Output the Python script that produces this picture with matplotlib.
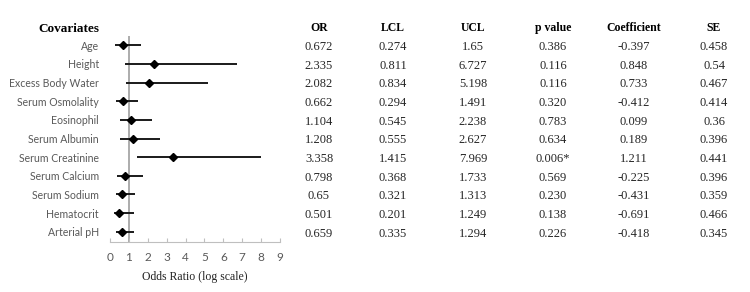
import matplotlib
matplotlib.use("Agg")
import matplotlib.pyplot as plt
from matplotlib.transforms import blended_transform_factory

covariates = ["Age", "Height", "Excess Body Water", "Serum Osmolality", "Eosinophil",
              "Serum Albumin", "Serum Creatinine", "Serum Calcium", "Serum Sodium",
              "Hematocrit", "Arterial pH"]
odds_ratio = [0.672, 2.335, 2.082, 0.662, 1.104, 1.208, 3.358, 0.798, 0.65, 0.501, 0.659]
lcl = [0.274, 0.811, 0.834, 0.294, 0.545, 0.555, 1.415, 0.368, 0.321, 0.201, 0.335]
ucl = [1.65, 6.727, 5.198, 1.491, 2.238, 2.627, 7.969, 1.733, 1.313, 1.249, 1.294]
p_value = ["0.386", "0.116", "0.116", "0.320", "0.783", "0.634", "0.006*", "0.569", "0.230", "0.138", "0.226"]
coefficient = ["-0.397", "0.848", "0.733", "-0.412", "0.099", "0.189", "1.211", "-0.225", "-0.431", "-0.691", "-0.418"]
se = ["0.458", "0.54", "0.467", "0.414", "0.36", "0.396", "0.441", "0.396", "0.359", "0.466", "0.345"]
or_text = ["0.672", "2.335", "2.082", "0.662", "1.104", "1.208", "3.358", "0.798", "0.65", "0.501", "0.659"]
lcl_text = ["0.274", "0.811", "0.834", "0.294", "0.545", "0.555", "1.415", "0.368", "0.321", "0.201", "0.335"]
ucl_text = ["1.65", "6.727", "5.198", "1.491", "2.238", "2.627", "7.969", "1.733", "1.313", "1.249", "1.294"]
x_ticks = list(range(0, 10))

W, H = 750, 292
fig = plt.figure(figsize=(W / 100, H / 100), dpi=100)
ax = fig.add_axes([110 / W, (H - 242) / H, 170 / W, 206 / H])

ypos = list(range(len(covariates)))
ax.axvline(1, color="#a6a6a6", lw=1.3, zorder=1)
ax.hlines(ypos, lcl, ucl, color="#1a1a1a", lw=1.4, zorder=2)
ax.plot(odds_ratio, ypos, linestyle="none", marker="D", markersize=4.5,
        color="black", zorder=3)

ax.set_xlim(0, 9)
ax.set_ylim(10.55, -0.5)
ax.set_xticks(x_ticks)
ax.set_xticklabels([str(t) for t in x_ticks], fontfamily="Lato", fontsize=8.5, color="#595959")
ax.set_yticks(ypos)
ax.set_yticklabels(covariates, fontfamily="Lato", fontsize=7.6, color="#595959")
ax.tick_params(axis="y", length=0, pad=8)
ax.tick_params(axis="x", direction="in", length=3, color="#bfbfbf", pad=7)
for s in ["left", "right", "top"]:
    ax.spines[s].set_visible(False)
ax.spines["bottom"].set_color("#bfbfbf")
ax.set_xlabel("Odds Ratio (log scale)", fontfamily="Liberation Serif", fontsize=8.5,
              color="#222222", labelpad=6)

fig.text(99 / W, (H - 29) / H, "Covariates", ha="right", va="center", fontsize=9.5,
         fontweight="bold", fontfamily="Liberation Serif", color="black")

trans = blended_transform_factory(fig.transFigure, ax.transData)
columns = [("OR", or_text, 319), ("LCL", lcl_text, 393), ("UCL", ucl_text, 473),
           ("p value", p_value, 553), ("Coefficient", coefficient, 634), ("SE", se, 714)]
for header, vals, xc in columns:
    fig.text(xc / W, (H - 28) / H, header, ha="center", va="center", fontsize=8.5,
             fontweight="bold", fontfamily="Liberation Serif", color="black")
    for i, v in enumerate(vals):
        ax.text(xc / W, i + 0.1, v, transform=trans, ha="center", va="center",
                fontsize=9, fontfamily="Liberation Serif", color="#262626", clip_on=False)

fig.savefig("out.png", dpi=100)
